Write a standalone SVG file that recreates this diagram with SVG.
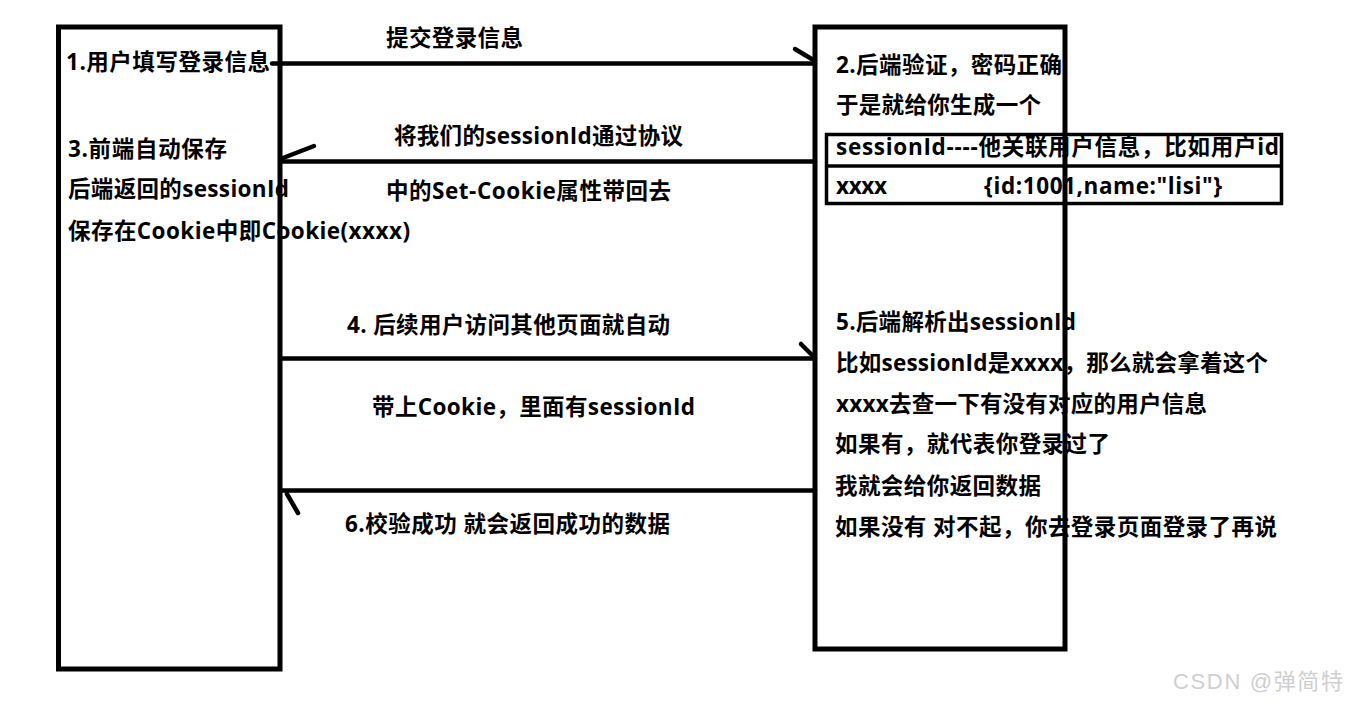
<svg xmlns="http://www.w3.org/2000/svg" width="1349" height="701" viewBox="0 0 1349 701">
<style>
.t{font-family:"Open Sans","Noto Sans CJK SC",sans-serif;font-weight:700;font-size:22.5px;fill:#000}
.box{fill:none;stroke:#000;stroke-width:5}
.tbl{fill:none;stroke:#000;stroke-width:3.5}
.ln{fill:none;stroke:#000;stroke-width:4.5;stroke-linecap:round}
.wm{font-family:"Liberation Sans","Noto Sans CJK SC",sans-serif;font-size:22px;fill:#cfcfcf}
</style>
<rect width="1349" height="701" fill="#fff"/>
<g id="client">
<text class="t" x="66" y="70" textLength="204">1.用户填写登录信息</text>
<text class="t" x="68" y="157" textLength="159">3.前端自动保存</text>
<text class="t" x="68" y="197" textLength="221">后端返回的sessionId</text>
<text class="t" x="68" y="239" textLength="342">保存在Cookie中即Cookie(xxxx)</text>
<rect class="box" x="58.5" y="27" width="221.5" height="642"/>
</g>
<g id="session-table">
<text class="t" x="836" y="155" textLength="443">sessionId----他关联用户信息，比如用户id</text>
<text class="t" x="836" y="194" textLength="51">xxxx</text>
<text class="t" x="984" y="194" textLength="238">{id:1001,name:"lisi"}</text>
<rect class="tbl" x="826.5" y="134.5" width="455" height="69"/>
<line class="tbl" x1="826.5" y1="166" x2="1281.5" y2="166"/>
</g>
<g id="server">
<text class="t" x="836" y="73" textLength="226">2.后端验证，密码正确</text>
<text class="t" x="836" y="113" textLength="205">于是就给你生成一个</text>
<text class="t" x="836" y="330" textLength="240">5.后端解析出sessionId</text>
<text class="t" x="836" y="371" textLength="432">比如sessionId是xxxx，那么就会拿着这个</text>
<text class="t" x="836" y="412" textLength="371">xxxx去查一下有没有对应的用户信息</text>
<text class="t" x="835" y="452" textLength="275">如果有，就代表你登录过了</text>
<text class="t" x="835" y="494" textLength="206">我就会给你返回数据</text>
<text class="t" x="835" y="535" textLength="442">如果没有 对不起，你去登录页面登录了再说</text>
<rect class="box" x="815" y="27" width="250" height="622"/>
</g>
<g id="connectors">
<line class="ln" x1="272" y1="63.5" x2="815" y2="63.5"/>
<line class="ln" x1="795" y1="49" x2="815" y2="61"/>
<line class="ln" x1="815" y1="161.5" x2="282" y2="161.5"/>
<line class="ln" x1="283" y1="158" x2="314" y2="146"/>
<line class="ln" x1="282" y1="358.5" x2="815" y2="358.5"/>
<line class="ln" x1="801" y1="344" x2="814" y2="357"/>
<line class="ln" x1="815" y1="490.5" x2="282" y2="490.5"/>
<line class="ln" x1="287" y1="494" x2="298" y2="513"/>
</g>
<g id="labels">
<text class="t" x="386" y="46" textLength="137">提交登录信息</text>
<text class="t" x="394" y="144" textLength="289">将我们的sessionId通过协议</text>
<text class="t" x="386" y="199" textLength="285">中的Set-Cookie属性带回去</text>
<text class="t" x="347" y="333" textLength="323">4. 后续用户访问其他页面就自动</text>
<text class="t" x="372" y="415" textLength="323">带上Cookie，里面有sessionId</text>
<text class="t" x="345" y="532" textLength="325">6.校验成功 就会返回成功的数据</text>
</g>
<text class="wm" x="1173" y="689" textLength="170">CSDN @弹简特</text>
</svg>
